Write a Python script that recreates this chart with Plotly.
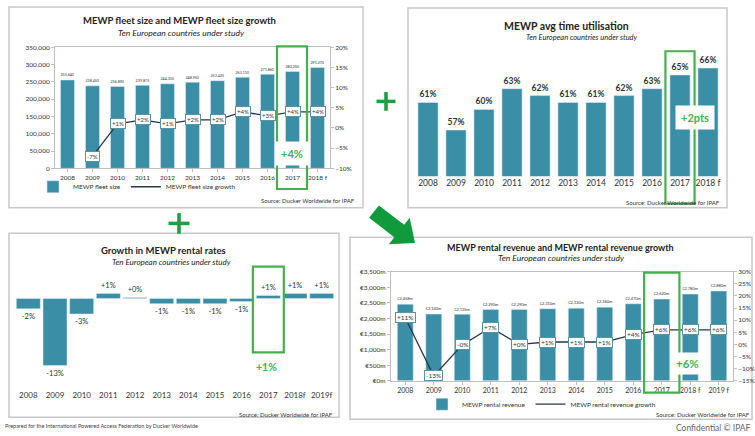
import math
import plotly.graph_objects as go

W, H = 755, 436
FONT = "Lato"
TEAL = "#3a8ea6"
LINE = "#26394a"
GREEN = "#45b04e"
GREEN2 = "#1f9e45"
TXT = "#333333"

def px(x):
    return x / W

def py(y):
    return 1 - y / H

# ---------------- data ----------------
years_fleet = ["2008", "2009", "2010", "2011", "2012", "2013", "2014", "2015", "2016", "2017", "2018 f"]
fleet_size = [255640, 238450, 236890, 239875, 244310, 248950, 253420, 263110, 271860, 280250, 291270]
fleet_growth_years = years_fleet[1:]
fleet_growth = [-7, 1, 2, 1, 2, 2, 4, 3, 4, 4]

years_util = ["2008", "2009", "2010", "2011", "2012", "2013", "2014", "2015", "2016", "2017", "2018 f"]
utilisation = [61, 57, 60, 63, 62, 61, 61, 62, 63, 65, 66]

years_rates = ["2008", "2009", "2010", "2011", "2012", "2013", "2014", "2015", "2016", "2017", "2018f", "2019f"]
rate_growth = [-2, -13, -3, 1, 0.2, -1, -1, -1, -0.6, 0.6, 1, 1]

years_rev = ["2008", "2009", "2010", "2011", "2012", "2013", "2014", "2015", "2016", "2017", "2018 f", "2019 f"]
revenue = [2458, 2140, 2135, 2290, 2290, 2310, 2330, 2360, 2470, 2620, 2780, 2880]
revenue_growth = [11, -13, -0.2, 7, 0, 1, 1, 1, 4, 6, 6, 6]

fig = go.Figure()

# ---------------- chart 1 ----------------
fig.add_trace(go.Bar(
    x=years_fleet, y=fleet_size, xaxis="x", yaxis="y", width=0.56,
    marker_color=TEAL, name="MEWP fleet size", legend="legend",
    text=[f"{v:,}" for v in fleet_size], textposition="outside",
    textfont=dict(size=5.5, color=TXT), cliponaxis=False))
fig.add_trace(go.Scatter(
    x=fleet_growth_years, y=fleet_growth, xaxis="x", yaxis="y2", mode="lines",
    line=dict(color=LINE, width=1.3), name="MEWP fleet size growth", legend="legend"))

# ---------------- chart 2 ----------------
fig.add_trace(go.Bar(
    x=years_util, y=utilisation, xaxis="x2", yaxis="y3", width=0.72,
    marker_color=TEAL, showlegend=False,
    text=[f"<b>{v}%</b>" for v in utilisation], textposition="outside",
    textfont=dict(size=8.5, color=TXT), cliponaxis=False))

# ---------------- chart 3 ----------------
fig.add_trace(go.Bar(
    x=years_rates, y=rate_growth, xaxis="x3", yaxis="y4", width=0.9,
    marker_color=TEAL, showlegend=False,
    text=[f"{v:+.0f}%" for v in rate_growth], textposition="outside",
    textfont=dict(size=7.5, color=TXT), cliponaxis=False))

# ---------------- chart 4 ----------------
fig.add_trace(go.Bar(
    x=years_rev, y=revenue, xaxis="x4", yaxis="y5", width=0.56,
    marker_color=TEAL, name="MEWP rental revenue", legend="legend2",
    text=[f"€{v:,}m" for v in revenue], textposition="outside",
    textfont=dict(size=5.5, color=TXT), cliponaxis=False))
fig.add_trace(go.Scatter(
    x=years_rev, y=revenue_growth, xaxis="x4", yaxis="y6", mode="lines",
    line=dict(color=LINE, width=1.3), name="MEWP rental revenue growth", legend="legend2"))

annotations = []
shapes = []

# growth labels in boxes (x given as category index so numeric-looking names stay categories)
for xv, g in zip(fleet_growth_years, fleet_growth):
    annotations.append(dict(x=years_fleet.index(xv), y=g, xref="x", yref="y2", text=f"{g:+.0f}%",
                            showarrow=False, bgcolor="white", bordercolor="#5b93a6",
                            borderwidth=1, borderpad=1, font=dict(size=6, color=TXT)))
for i, g in enumerate(revenue_growth):
    annotations.append(dict(x=i, y=g, xref="x4", yref="y6", text=f"{g:+.0f}%",
                            showarrow=False, bgcolor="white", bordercolor="#5b93a6",
                            borderwidth=1, borderpad=1, font=dict(size=6.5, color=TXT)))

def txt(x, y, s, size, color="#222222", anchor="center", **kw):
    annotations.append(dict(x=px(x), y=py(y), xref="paper", yref="paper", text=s,
                            showarrow=False, xanchor=anchor, yanchor="middle",
                            font=dict(size=size, color=color, family=FONT), **kw))

# titles
txt(179, 17, "<b>MEWP fleet size and MEWP fleet size growth</b>", 9.5)
txt(181, 29, "<i>Ten European countries under study</i>", 8.5)
txt(566, 22, "<b>MEWP avg time utilisation</b>", 10.5)
txt(582, 34, "<i>Ten European countries under study</i>", 7.5)
txt(163, 251, "<b>Growth in MEWP rental rates</b>", 9.5)
txt(171, 262, "<i>Ten European countries under study</i>", 8)
txt(560, 247, "<b>MEWP rental revenue and MEWP rental revenue growth</b>", 9)
txt(561, 258, "<i>Ten European countries under study</i>", 8.5)

# sources
txt(357, 200, "Source: Ducker Worldwide for IPAF", 6, TXT, "right")
txt(722, 202, "Source: Ducker Worldwide for IPAF", 6, TXT, "right")
txt(335, 417, "Source: Ducker Worldwide for IPAF", 6, TXT, "right")
txt(752, 417, "Source: Ducker Worldwide for IPAF", 6, TXT, "right")
txt(3, 429, "Prepared for the International Powered Access Federation by Ducker Worldwide", 5.5, "#444444", "left")
txt(753, 431, "Confidential © IPAF", 8.5, "#666666", "right")

# green highlight call-outs
txt(292, 152, "<b>+4%</b>", 11, GREEN, bgcolor="white", borderpad=5)
txt(695, 115, "<b>+2pts</b>", 11, GREEN, bgcolor="white", borderpad=5)
txt(266, 369, "<b>+1%</b>", 10.5, GREEN)
txt(687, 365, "<b>+6%</b>", 11.5, GREEN, bgcolor="white", borderpad=4)

# panel frames
for (x0, y0, x1, y1) in [(9, 3, 363, 207), (408, 4, 727, 207), (9, 233, 339, 420), (350, 237, 752, 422)]:
    shapes.append(dict(type="rect", xref="paper", yref="paper", x0=px(x0), x1=px(x1),
                       y0=py(y1), y1=py(y0), line=dict(color="#c8c8c8", width=1.5), layer="below"))

# green boxes around 2017
for xr, x0, x1, y0, y1 in [("x", 8.38, 9.58, 43, 188), ("x2", 8.48, 9.52, 48, 203),
                           ("x3", 8.42, 9.58, 267, 354), ("x4", 8.38, 9.62, 273, 395)]:
    shapes.append(dict(type="rect", xref=xr, yref="paper", x0=x0, x1=x1, y0=py(y1), y1=py(y0),
                       line=dict(color=GREEN, width=2.2)))

# green plus signs
for cx, cy, r in [(386, 99, 9.5), (179, 223, 10.5)]:
    t = 1.8
    shapes.append(dict(type="rect", xref="paper", yref="paper", x0=px(cx - r), x1=px(cx + r),
                       y0=py(cy + t), y1=py(cy - t), fillcolor=GREEN2, line=dict(width=0)))
    shapes.append(dict(type="rect", xref="paper", yref="paper", x0=px(cx - t), x1=px(cx + t),
                       y0=py(cy + r), y1=py(cy - r), fillcolor=GREEN2, line=dict(width=0)))

# green arrow
tail = (374, 211)
tip = (415, 243)
dx, dy = tip[0] - tail[0], tip[1] - tail[1]
L = math.hypot(dx, dy)
ux, uy = dx / L, dy / L
nx, ny = -uy, ux
sw, hw, hl = 8, 17, 20
bx, by = tip[0] - ux * hl, tip[1] - uy * hl
pts = [
    (tail[0] + nx * sw, tail[1] + ny * sw),
    (bx + nx * sw, by + ny * sw),
    (bx + nx * hw, by + ny * hw),
    tip,
    (bx - nx * hw, by - ny * hw),
    (bx - nx * sw, by - ny * sw),
    (tail[0] - nx * sw, tail[1] - ny * sw),
]
path = "M " + " L ".join(f"{px(a):.5f},{py(b):.5f}" for a, b in pts) + " Z"
shapes.append(dict(type="path", xref="paper", yref="paper", path=path,
                   fillcolor="#109a3c", line=dict(width=0)))

axis_line = "#bfbfbf"
tickf = dict(size=6.5, color=TXT, family=FONT)

fig.update_layout(
    width=W, height=H, autosize=False,
    margin=dict(l=0, r=0, t=0, b=0),
    paper_bgcolor="white", plot_bgcolor="white",
    font=dict(family=FONT, color=TXT),
    showlegend=True,
    xaxis=dict(domain=[px(55), px(330)], anchor="y", type="category",
               showline=True, linecolor=axis_line, mirror=True, ticks="outside",
               ticklen=3, tickcolor=axis_line, tickfont=dict(size=6.5, color=TXT)),
    yaxis=dict(domain=[py(167), py(44)], anchor="x", range=[0, 350000], dtick=50000, tickformat=",",
               showline=True, linecolor=axis_line, mirror=True, showgrid=False, zeroline=False,
               ticks="outside", ticklen=3, tickcolor=axis_line, tickfont=tickf),
    yaxis2=dict(overlaying="y", side="right", anchor="x", range=[-10, 20], dtick=5,
                ticksuffix="%", showgrid=False, zeroline=False, ticks="outside", ticklen=3,
                tickcolor=axis_line, tickfont=tickf),
    xaxis2=dict(domain=[px(414), px(722)], anchor="y3", type="category", showline=False,
                ticks="", tickfont=dict(size=8.5, color=TXT)),
    yaxis3=dict(domain=[py(175), py(35)], anchor="x2", range=[50.3, 70.3], visible=False),
    xaxis3=dict(domain=[px(15), px(335)], anchor="y4", type="category", showline=False,
                ticks="", tickfont=dict(size=8, color=TXT)),
    yaxis4=dict(domain=[py(391), py(270)], anchor="x3", range=[-17.5, 5.6], visible=False),
    xaxis4=dict(domain=[px(391), px(733)], anchor="y5", type="category",
                showline=True, linecolor=axis_line, mirror=True, ticks="outside",
                ticklen=3, tickcolor=axis_line, tickfont=dict(size=7, color=TXT)),
    yaxis5=dict(domain=[py(383), py(272)], anchor="x4", range=[0, 3500], dtick=500, tickformat=",",
                tickprefix="€", ticksuffix="m", showline=True, linecolor=axis_line, mirror=True,
                showgrid=False, zeroline=False, ticks="outside", ticklen=3, tickcolor=axis_line,
                tickfont=tickf),
    yaxis6=dict(overlaying="y5", side="right", anchor="x4", range=[-15, 30], dtick=5,
                ticksuffix="%", showgrid=False, zeroline=False, ticks="outside", ticklen=3,
                tickcolor=axis_line, tickfont=tickf),
    legend=dict(orientation="h", x=px(33), y=py(171), xanchor="left", yanchor="top",
                font=dict(size=6.5, color=TXT), bgcolor="rgba(0,0,0,0)", itemwidth=30,
                tracegroupgap=0),
    legend2=dict(orientation="h", x=px(422), y=py(392), xanchor="left", yanchor="top",
                 font=dict(size=6.5, color=TXT), bgcolor="rgba(0,0,0,0)", itemwidth=30,
                 tracegroupgap=0),
    annotations=annotations,
    shapes=shapes,
)

fig.write_html("out.html", config={"displayModeBar": False},
               post_script="document.body.style.margin='0px';document.body.style.overflow='hidden';")
